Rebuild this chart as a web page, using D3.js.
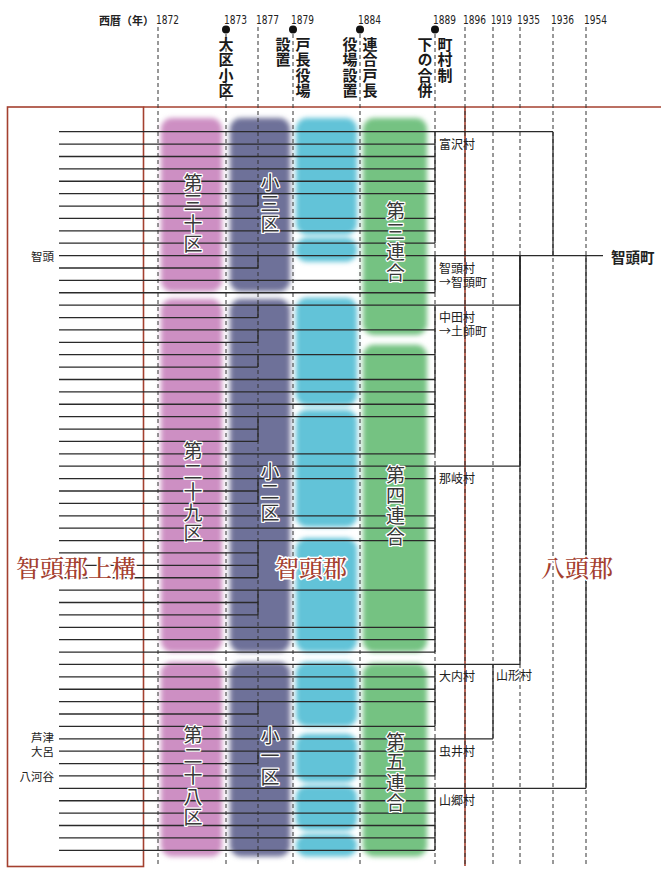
<!DOCTYPE html>
<html>
<head>
<meta charset="utf-8">
<script src="https://cdn.jsdelivr.net/npm/d3@7"></script>
<style>
  body { margin: 0; background: #fff; }
  text { font-family: "Noto Sans CJK JP", sans-serif; }
  .vt { writing-mode: vertical-rl; text-orientation: upright; }
</style>
</head>
<body>
<div id="chart"></div>
<script>
// time columns
const years = [1872, 1873, 1877, 1879, 1884, 1889, 1896, 1919, 1935, 1936, 1954];
const eventYears = [1873, 1879, 1884, 1889];
const eventNotes = [["大区小区"], ["戸長役場", "設置"], ["連合戸長", "役場設置"], ["町村制", "下の合併"]];

// old villages (one line each) and the 1877 mergers [kept line, last merged line]
const lineCount = 59;
const merges1877 = [[5, 6], [10, 11], [14, 15], [16, 17], [18, 19], [23, 25], [28, 30], [33, 36], [37, 39], [46, 47], [50, 51]];
const oldNames = ["智頭", "芦津", "大呂", "八河谷"];
const oldNameLine = [10, 49, 50, 52];

// 1889 villages
const villages = ["富沢村", "智頭村", "中田村", "那岐村", "大内村", "虫井村", "山郷村"];
const villageFirst = [0, 10, 14, 27, 43, 49, 53];
const villageLast = [9, 13, 26, 42, 48, 52, 58];
const villageNext = ["", "→智頭町", "→土師町", "", "", "", ""];

// later mergers
const laterFrom = ["虫井村", "中田村", "那岐村", "大内村", "富沢村", "山郷村"];
const laterInto = ["大内村", "智頭村", "智頭村", "智頭村", "智頭村", "智頭村"];
const laterYear = [1919, 1935, 1935, 1935, 1936, 1954];
const newVillage = "山形村";
const finalTown = "智頭町";

// administrative blocks, spans in line units
const daikuNames = ["第三十区", "第二十九区", "第二十八区"];
const daikuSpan = [[-1.1, 12.9], [13.5, 42], [42.8, 58.5]];
const daikuLabelAt = [6.6, 29.1, 52.0];
const shokuNames = ["小三区", "小二区", "小一区"];
const shokuLabelAt = [5.8, 29.1, 50.4];
const kochoSpan = [[-1.1, 8.3], [8.55, 10.5], [13.4, 22.1], [22.45, 31.9], [32.8, 42], [42.8, 48], [48.6, 52.5], [52.8, 56.4], [56.7, 58.5]];
const rengoNames = ["第三連合", "第四連合", "第五連合"];
const rengoSpan = [[-1.1, 16.4], [17.2, 42], [42.9, 58.5]];
const rengoLabelAt = [8.9, 30.2, 51.7];
const gunNames = ["智頭郡上構", "智頭郡", "八頭郡"];

const width = 661, height = 873;
const red = "#a4402f", ink = "#2a2a2a";

const svg = d3.select("#chart").append("svg")
  .attr("width", width).attr("height", height);

const defs = svg.append("defs");
defs.append("filter").attr("id", "soft")
  .attr("x", "-20%").attr("y", "-20%").attr("width", "140%").attr("height", "140%")
  .append("feGaussianBlur").attr("stdDeviation", 2.6);

const x = d3.scaleOrdinal().domain(years)
  .range([158, 226, 258, 293, 360, 435, 465, 493, 520, 553, 586]);
const y = d3.scaleLinear().domain([0, lineCount - 1]).range([131.7, 850.3]);

const vIndex = name => villages.indexOf(name);

// vertical text, written top to bottom in one run
function vtext(g, str, cx, cy, size, pitch, attrs) {
  const t = g.append("text").attr("class", "vt")
    .attr("x", cx).attr("y", cy + (pitch - size) / 2)
    .attr("text-anchor", "middle")
    .attr("font-size", size)
    .style("letter-spacing", (pitch - size) + "px")
    .text(str);
  Object.entries(attrs).forEach(([k, v]) => t.attr(k, v));
}

// ---- colored blocks
const blocks = svg.append("g").attr("filter", "url(#soft)");
function drawBlocks(spans, x0, x1, color) {
  blocks.selectAll(null).data(spans).join("rect")
    .attr("x", x0).attr("width", x1 - x0)
    .attr("y", d => y(d[0])).attr("height", d => y(d[1]) - y(d[0]))
    .attr("rx", 11).attr("fill", color);
}
drawBlocks(daikuSpan, x(1872) + 3, x(1873) - 4, "#cd8fc3");
drawBlocks(daikuSpan, x(1873) + 4, x(1879) - 3, "#6e7199");
drawBlocks(kochoSpan, x(1879) + 3, x(1884) - 3, "#62c3d8");
drawBlocks(rengoSpan, x(1884) + 3, x(1889) - 8, "#74c282");

// ---- red frame
svg.append("rect").attr("x", 7.5).attr("y", 107).attr("width", 136).attr("height", 759.5)
  .attr("fill", "none").attr("stroke", red).attr("stroke-width", 1.6);
svg.append("line").attr("x1", 143.5).attr("x2", width).attr("y1", 107).attr("y2", 107)
  .attr("stroke", red).attr("stroke-width", 1.6);
svg.append("line").attr("x1", x(1896)).attr("x2", x(1896)).attr("y1", 107).attr("y2", 866)
  .attr("stroke", red).attr("stroke-width", 1.6);

// ---- year columns
svg.append("g").selectAll("line").data(years).join("line")
  .attr("x1", d => x(d)).attr("x2", d => x(d))
  .attr("y1", 27).attr("y2", 866)
  .attr("stroke", "#333").attr("stroke-width", 1).attr("stroke-dasharray", "4,3");

svg.append("g").selectAll("text").data(years).join("text")
  .attr("x", d => x(d) - (d === 1935 ? 3 : 2)).attr("y", 20)
  .attr("dominant-baseline", "central")
  .style("font-family", "'DejaVu Sans Condensed', 'Liberation Sans Narrow', sans-serif")
  .attr("font-size", 12).attr("fill", "#222")
  .attr("textLength", d => d === 1919 ? 21 : 23).attr("lengthAdjust", "spacingAndGlyphs")
  .text(d => d);

svg.append("text").attr("x", 154).attr("y", 20).attr("text-anchor", "end")
  .attr("dominant-baseline", "central").attr("font-size", 11).attr("font-weight", 700)
  .attr("fill", "#222").text("西暦（年）");

svg.append("g").selectAll("circle").data(eventYears).join("circle")
  .attr("cx", d => x(d)).attr("cy", 29.5).attr("r", 4).attr("fill", "#111");

const notes = svg.append("g");
eventYears.forEach((yr, i) => {
  const cols = eventNotes[i];
  cols.forEach((str, j) => {
    let cx;
    if (cols.length === 1) cx = x(yr);
    else cx = j === 0 ? x(yr) + 10 : x(yr) - 10;
    const n = Array.from(str).length;
    vtext(notes, str, cx, 36.5 + n * 15.5 / 2, 15, 15.5,
      { "font-weight": 700, fill: "#1a1a1a" });
  });
});

// ---- village lines
const lineEnd = d3.range(lineCount).map(() => x(1889));
merges1877.forEach(([s, e]) => d3.range(s + 1, e + 1).forEach(i => { lineEnd[i] = x(1877); }));

const lines = svg.append("g").attr("stroke", ink).attr("stroke-width", 1.3).attr("fill", "none");
lines.selectAll(".old").data(d3.range(lineCount)).join("line")
  .attr("x1", 59).attr("x2", i => lineEnd[i])
  .attr("y1", i => y(i)).attr("y2", i => y(i));

lines.selectAll(".m77").data(merges1877).join("line")
  .attr("x1", x(1877)).attr("x2", x(1877))
  .attr("y1", d => y(d[0])).attr("y2", d => y(d[1]));

lines.selectAll(".grp").data(villages).join("line")
  .attr("x1", x(1889)).attr("x2", x(1889))
  .attr("y1", (d, i) => y(villageFirst[i])).attr("y2", (d, i) => y(villageLast[i]));

laterFrom.forEach((name, k) => {
  const fy = y(villageFirst[vIndex(name)]);
  const ty = y(villageFirst[vIndex(laterInto[k])]);
  const xx = x(laterYear[k]);
  lines.append("line").attr("x1", x(1889)).attr("x2", xx).attr("y1", fy).attr("y2", fy);
  lines.append("line").attr("x1", xx).attr("x2", xx).attr("y1", ty).attr("y2", fy);
});
const townY = y(villageFirst[vIndex("智頭村")]);
lines.append("line").attr("x1", x(1889)).attr("x2", x(1954) + 17)
  .attr("y1", townY).attr("y2", townY);

// ---- labels
const labels = svg.append("g").attr("fill", "#222");
villages.forEach((v, i) => {
  const t = labels.append("text").attr("dominant-baseline", "central").attr("font-size", 12);
  t.append("tspan").attr("x", x(1889) + 4).attr("y", y(villageFirst[i]) + 11).text(v);
  if (villageNext[i]) {
    t.append("tspan").attr("x", x(1889) + 4).attr("y", y(villageFirst[i]) + 25).text(villageNext[i]);
  }
});
labels.append("text").attr("x", x(1919) + 3).attr("y", y(villageFirst[vIndex("大内村")]) + 10)
  .attr("dominant-baseline", "central").attr("font-size", 12).text(newVillage);
labels.append("text").attr("x", x(1954) + 25).attr("y", townY + 1)
  .attr("dominant-baseline", "central").attr("font-size", 14.5).attr("font-weight", 700)
  .text(finalTown);

oldNames.forEach((nm, i) => {
  labels.append("text").attr("x", 54).attr("y", y(oldNameLine[i]) - (i === 1 ? 2 : 0))
    .attr("text-anchor", "end").attr("dominant-baseline", "central")
    .attr("font-size", 11.5).text(nm);
});

const blockText = { fill: "#383838", stroke: "#fff", "stroke-width": 2.5,
  "paint-order": "stroke", "stroke-linejoin": "round" };
const bl = svg.append("g");
daikuNames.forEach((nm, i) => vtext(bl, nm, (x(1872) + x(1873)) / 2 + 1, y(daikuLabelAt[i]), 19, 20.5, blockText));
shokuNames.forEach((nm, i) => vtext(bl, nm, x(1877) + 12, y(shokuLabelAt[i]), 19, 20.5, blockText));
rengoNames.forEach((nm, i) => vtext(bl, nm, (x(1884) + x(1889)) / 2 - 2, y(rengoLabelAt[i]), 19, 20.5, blockText));

const gunX = [76, 311, 577];
svg.append("g").selectAll("text").data(gunNames).join("text")
  .attr("x", (d, i) => gunX[i]).attr("y", 566)
  .attr("text-anchor", "middle").attr("dominant-baseline", "central")
  .style("font-family", "'Noto Serif CJK JP', 'Noto Sans CJK JP', serif")
  .attr("font-size", 24).attr("font-weight", 500)
  .attr("fill", red).attr("stroke", "#fff").attr("stroke-width", 3)
  .attr("paint-order", "stroke").attr("stroke-linejoin", "round")
  .text(d => d);
</script>
</body>
</html>
